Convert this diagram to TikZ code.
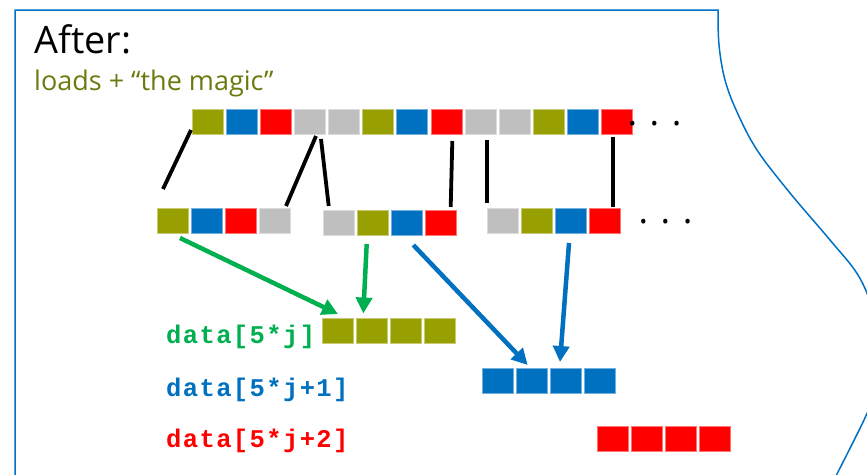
\documentclass[tikz,border=0pt]{standalone}
\usepackage{fontspec}
\setmainfont{Open Sans}
\newfontfamily\codefont{Liberation Mono}[LetterSpace=5.5]
\usetikzlibrary{arrows.meta}
\definecolor{olv}{RGB}{151,160,0}
\definecolor{blu}{RGB}{0,112,192}
\definecolor{rd}{RGB}{255,0,0}
\definecolor{gry}{RGB}{191,191,191}
\definecolor{grn}{RGB}{0,176,80}
\definecolor{txtolv}{RGB}{110,122,16}
\definecolor{framec}{RGB}{0,113,197}
\tikzset{
  sq/.style={minimum width=31pt, minimum height=25pt, inner sep=0pt, outer sep=0pt,
    fill=#1, draw=#1!55!white, line width=0.6pt},
  blk/.style={line width=3.8pt, black},
  arr/.style={line width=4.5pt, -{Triangle[length=16pt,width=16pt]}},
  codelab/.style={anchor=base west, inner sep=0pt, font=\codefont\bfseries\fontsize{25.5}{28}\selectfont},
  dotstxt/.style={anchor=base west, inner sep=0pt, font=\fontsize{36}{40}\selectfont},
  framestyle/.style={draw=framec, line width=1.5pt},
}
\begin{document}
\begin{tikzpicture}[x=1pt,y=-1pt]
\clip (0,0) rectangle (867,474);
\fill[white] (0,0) rectangle (867,474);
% frame
\draw[framestyle] (15,490) -- (15,10) -- (718,10) -- plot[smooth, tension=0.6] coordinates
  {(718,10) (719,45) (725,80) (737,112) (757,150) (790,193) (830,240) (858,275) (873,310) (879,340) (879,370) (874,395) (864,420) (837,474) (828,492)};
% titles
\node[anchor=base west, inner sep=0pt, font=\fontsize{37.8}{40}\selectfont] (after) at (34.5,53.3) {After:};
\node[anchor=base west, inner sep=0pt, text=txtolv, font=\fontsize{27}{30}\selectfont] (sub) at (34,90) {loads + “the magic”};
% top row
\foreach \c [count=\i from 0] in {olv,blu,rd,gry,gry,olv,blu,rd,gry,gry,olv,blu,rd}
  \node[sq=\c] (t\i) at ({207.5+34.13*\i},121.5) {};
\node[dotstxt] (dots1) at (627.5,125) {. . .};
% second row
\foreach \c [count=\i from 0] in {olv,blu,rd,gry}
  \node[sq=\c] (a\i) at ({172.8+34*\i},221) {};
\foreach \c [count=\i from 0] in {gry,olv,blu,rd}
  \node[sq=\c] (b\i) at ({338.5+34*\i},222.8) {};
\foreach \c [count=\i from 0] in {gry,olv,blu,rd}
  \node[sq=\c] (c\i) at ({502.8+34*\i},221) {};
\node[dotstxt] (dots2) at (638.5,223) {. . .};
% result rows
\foreach \i in {0,...,3} {
  \node[sq=olv] (o\i) at ({338.2+34*\i},330.8) {};
  \node[sq=blu] (u\i) at ({498.2+34*\i},380.8) {};
  \node[sq=rd]  (r\i) at ({612.5+34*\i},439.2) {};
}
% labels
\node[codelab, text=grn] (lab0) at (166,343.3) {data[5*j]};
\node[codelab, text=blu] (lab1) at (166,396.7) {data[5*j+1]};
\node[codelab, text=rd]  (lab2) at (166,447.7) {data[5*j+2]};
% black split lines
\coordinate (p1a) at (191,130); \coordinate (p1b) at (163,189);
\coordinate (p2a) at (316,136); \coordinate (p2b) at (286,206);
\coordinate (p3a) at (321,139); \coordinate (p3b) at (328.7,206);
\coordinate (p4a) at (452.3,141); \coordinate (p4b) at (450.7,207);
\coordinate (p5a) at (487.3,140); \coordinate (p5b) at (487.3,202.7);
\coordinate (p6a) at (613.3,136.7); \coordinate (p6b) at (613.3,206.7);
\foreach \k in {1,...,6} \draw[blk] (p\k a) -- (p\k b);
% arrows
\coordinate (g1a) at (180,238); \coordinate (g1b) at (338,314);
\coordinate (g2a) at (366.7,244); \coordinate (g2b) at (363.3,313.5);
\coordinate (h1a) at (413.3,245); \coordinate (h1b) at (527.7,365);
\coordinate (h2a) at (569,243); \coordinate (h2b) at (560,362);
\draw[arr, grn] (g1a) -- (g1b);
\draw[arr, grn] (g2a) -- (g2b);
\draw[arr, blu] (h1a) -- (h1b);
\draw[arr, blu] (h2a) -- (h2b);
\end{tikzpicture}
\end{document}
